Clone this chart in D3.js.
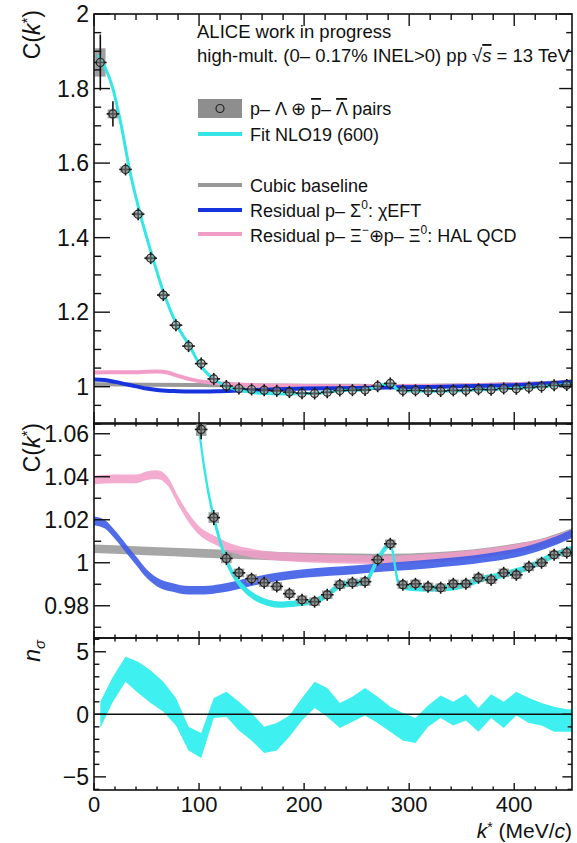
<!DOCTYPE html>
<html>
<head>
<meta charset="utf-8">
<script src="https://cdn.jsdelivr.net/npm/d3@7"></script>
<style>
  body { margin: 0; background: #fff; }
  svg { font-family: "Liberation Sans", Arial, Helvetica, sans-serif; }
</style>
</head>
<body>
<svg id="chart"></svg>
<script>
var width = 577;
var height = 843;

// measured correlation function, bin centres in MeV/c
var kStar = [6, 18, 30, 42, 54, 66, 78, 90, 102, 114, 126, 138, 150, 162, 174, 186, 198, 210, 222,
             234, 246, 258, 270, 282, 294, 306, 318, 330, 342, 354, 366, 378, 390, 402, 414, 426, 438, 450];
var cData = [1.870, 1.732, 1.583, 1.463, 1.345, 1.246, 1.165, 1.109, 1.062, 1.021, 1.002, 0.9953, 0.9926,
             0.9907, 0.9890, 0.9856, 0.9828, 0.9819, 0.9851, 0.9898, 0.9907, 0.9912, 1.0014, 1.0088, 0.9898,
             0.9902, 0.9888, 0.9884, 0.9902, 0.9902, 0.9930, 0.9921, 0.9953, 0.9944, 0.9981, 1.0000, 1.0037, 1.0047];
var statErr = [0.075, 0.034, 0.012, 0.008, 0.007, 0.006, 0.005, 0.005, 0.0045, 0.0035, 0.003, 0.0028, 0.0026,
               0.0025, 0.0024, 0.0023, 0.0022, 0.0022, 0.0021, 0.002, 0.002, 0.002, 0.002, 0.002, 0.002,
               0.002, 0.002, 0.002, 0.002, 0.002, 0.002, 0.002, 0.002, 0.002, 0.002, 0.002, 0.002, 0.002];
var sysErr = [0.038, 0.012, 0.008, 0.006, 0.005, 0.004, 0.0035, 0.003, 0.003, 0.0025, 0.0022, 0.002, 0.002,
              0.002, 0.002, 0.002, 0.002, 0.002, 0.002, 0.002, 0.002, 0.002, 0.002, 0.002, 0.002,
              0.002, 0.002, 0.002, 0.002, 0.002, 0.002, 0.002, 0.002, 0.002, 0.002, 0.002, 0.002, 0.002];

// Fit NLO19 (600)
var fitK = [4, 10, 18, 26, 34, 44, 56, 67, 79, 91, 101, 108, 114, 120, 126, 132, 140, 153, 165, 178, 191,
            200, 210, 222, 234, 246, 258, 270, 282, 290, 300, 320, 340, 354, 366, 390, 414, 438, 455];
var fitC = [1.89, 1.86, 1.80, 1.70, 1.58, 1.463, 1.345, 1.246, 1.165, 1.109, 1.058, 1.035, 1.021, 1.010,
            1.001, 0.995, 0.9895, 0.984, 0.9815, 0.9805, 0.981, 0.9815, 0.9822, 0.985, 0.9895, 0.9905,
            0.991, 1.0014, 1.0088, 0.9905, 0.9885, 0.988, 0.9885, 0.990, 0.992, 0.9945, 0.998, 1.0035, 1.0065];

// cubic baseline
var baseK = [0, 50, 100, 150, 200, 250, 280, 320, 360, 400, 430, 455];
var baseC = [1.0065, 1.0055, 1.0045, 1.0035, 1.0027, 1.0023, 1.0022, 1.0028, 1.0042, 1.0068, 1.0098, 1.0140];

// residual p-Sigma0 chiEFT
var sigmaK = [0, 10, 20, 30, 40, 50, 60, 75, 90, 105, 120, 150, 175, 200, 250, 280, 320, 374, 410, 430, 455];
var sigmaC = [1.0195, 1.018, 1.013, 1.007, 1.001, 0.995, 0.991, 0.9885, 0.9872, 0.9872, 0.988, 0.9912,
              0.9935, 0.995, 0.9968, 0.998, 0.9995, 1.0023, 1.0055, 1.0085, 1.0135];

// residual p-Xi HAL QCD
var xiK = [0, 20, 40, 50, 60, 70, 80, 90, 100, 115, 130, 150, 175, 200, 250, 280, 320, 360, 400, 430, 455];
var xiC = [1.0385, 1.039, 1.039, 1.0405, 1.041, 1.038, 1.029, 1.021, 1.015, 1.0105, 1.007, 1.0045, 1.003,
           1.0022, 1.0015, 1.0013, 1.0022, 1.0038, 1.0065, 1.0095, 1.0135];
var residualHalf = 0.002;

// n sigma deviation band
var nsK = kStar.concat([455]);
var nsHigh = [1.0, 3.0, 4.6, 4.2, 3.5, 2.6, 1.3, -1.0, -1.5, 1.3, 1.8, 1.0, 0.1, -1.0, -0.7, -0.1, 1.3, 2.6, 2.1,
              0.9, 1.4, 2.1, 1.4, 0.6, 0.1, -0.3, 0.7, 1.5, 1.0, 1.6, 0.5, 1.6, 1.0, 1.8, 1.3, 0.9, 0.6, 0.4, 0.4];
var nsLow = [-1.1, 1.0, 2.6, 1.7, 0.9, 0.2, -0.9, -2.9, -3.5, -0.3, -0.2, -1.3, -2.1, -3.1, -2.9, -1.8, -0.5, 0.5, -0.2,
             -1.1, -0.6, -0.1, -0.7, -1.4, -2.1, -2.3, -1.0, -0.3, -0.9, -0.5, -1.4, -0.3, -1.1, -0.1, -0.7, -0.9, -1.4, -1.4, -1.4];

// tick values
var xMajor = [0, 100, 200, 300, 400];
var topMajor = [1, 1.2, 1.4, 1.6, 1.8, 2];
var midMajor = [0.98, 1, 1.02, 1.04, 1.06];
var botMajor = [-5, 0, 5];

var cyan = '#35e6e6';
var blue = '#1633dd';
var pink = '#f29cc8';
var grey = '#999999';

var x0 = 94, x1 = 572;
var x = d3.scaleLinear().domain([0, 455]).range([x0, x1]);
var yTop = d3.scaleLinear().domain([0.9, 2]).range([424, 14]);
var yMid = d3.scaleLinear().domain([0.965, 1.065]).range([638, 423]);
var yBot = d3.scaleLinear().domain([-6.05, 6.1]).range([790, 638]);

var svg = d3.select('#chart').attr('width', width).attr('height', height);

var pts = kStar.map(function(k, i){
	return {k: k, c: cData[i], st: statErr[i], sy: sysErr[i]};
});

function fmt(d){
	var s = String(+d.toFixed(3));
	return s.replace('-', '\u2212');
}

function minors(domain, step){
	var out = [];
	var start = Math.ceil(domain[0] / step - 1e-9);
	for (var i = start; i * step <= domain[1] + 1e-9; i++) out.push(+(i * step).toFixed(4));
	return out;
}

function clip(id, y){
	svg.append('clipPath').attr('id', id)
		.append('rect')
		.attr('x', x0).attr('y', y.range()[1])
		.attr('width', x1 - x0).attr('height', y.range()[0] - y.range()[1]);
	return svg.append('g').attr('clip-path', 'url(#' + id + ')');
}

function frame(y, yMaj, yMinStep, yLen, xLen, labelsX){
	var g = svg.append('g');
	var top = y.range()[1], bot = y.range()[0];
	var ymin = minors(y.domain(), yMinStep);
	var xmin = minors(x.domain(), 20);
	// y ticks left and right
	ymin.forEach(function(v){
		var major = yMaj.some(function(m){ return Math.abs(m - v) < 1e-6; });
		var L = major ? yLen : yLen * 0.45;
		g.append('line').attr('x1', x0).attr('x2', x0 + L).attr('y1', y(v)).attr('y2', y(v));
		g.append('line').attr('x1', x1).attr('x2', x1 - L * 0.8).attr('y1', y(v)).attr('y2', y(v));
	});
	xmin.forEach(function(v){
		var major = v % 100 === 0;
		var L = major ? xLen : xLen * 0.5;
		g.append('line').attr('x1', x(v)).attr('x2', x(v)).attr('y1', bot).attr('y2', bot - L);
		g.append('line').attr('x1', x(v)).attr('x2', x(v)).attr('y1', top).attr('y2', top + L);
	});
	g.selectAll('line').attr('stroke', '#111').attr('stroke-width', 1.4);
	g.append('rect').attr('x', x0).attr('y', top).attr('width', x1 - x0).attr('height', bot - top)
		.attr('fill', 'none').attr('stroke', '#111').attr('stroke-width', 1.6);
	g.selectAll('text.yl').data(yMaj).enter().append('text')
		.attr('x', x0 - 5).attr('y', function(d){ return y(d); })
		.attr('dy', '0.36em').attr('text-anchor', 'end')
		.attr('font-size', 23).attr('fill', '#111')
		.text(fmt);
	if (labelsX) {
		g.selectAll('text.xl').data(xMajor).enter().append('text')
			.attr('x', function(d){ return x(d); }).attr('y', bot + 22)
			.attr('text-anchor', 'middle').attr('font-size', 22).attr('fill', '#111')
			.text(fmt);
	}
}

function band(y, ks, cs, half){
	return d3.area()
		.x(function(d, i){ return x(ks[i]); })
		.y0(function(d, i){ return y(cs[i] - half); })
		.y1(function(d, i){ return y(cs[i] + half); })
		.curve(d3.curveMonotoneX)(ks);
}

function line(y, ks, cs){
	return d3.line()
		.x(function(d, i){ return x(ks[i]); })
		.y(function(d, i){ return y(cs[i]); })
		.curve(d3.curveMonotoneX)(ks);
}

function drawData(g, y){
	g.selectAll('rect.sys').data(pts).enter().append('rect')
		.attr('x', function(d){ return x(d.k - 5); })
		.attr('width', x(10) - x(0))
		.attr('y', function(d){ return y(d.c + d.sy); })
		.attr('height', function(d){ return y(d.c - d.sy) - y(d.c + d.sy); })
		.attr('fill', '#8e8e8e').attr('opacity', 0.85);
}

function drawPoints(g, y){
	g.selectAll('line.ev').data(pts).enter().append('line')
		.attr('x1', function(d){ return x(d.k); }).attr('x2', function(d){ return x(d.k); })
		.attr('y1', function(d){ return Math.min(y(d.c) - 6, y(d.c + d.st)); })
		.attr('y2', function(d){ return Math.max(y(d.c) + 6, y(d.c - d.st)); })
		.attr('stroke', '#111').attr('stroke-width', 1.6);
	g.selectAll('line.eh').data(pts).enter().append('line')
		.attr('x1', function(d){ return x(d.k - 6); }).attr('x2', function(d){ return x(d.k + 6); })
		.attr('y1', function(d){ return y(d.c); }).attr('y2', function(d){ return y(d.c); })
		.attr('stroke', '#111').attr('stroke-width', 1.6);
	g.selectAll('circle').data(pts).enter().append('circle')
		.attr('cx', function(d){ return x(d.k); }).attr('cy', function(d){ return y(d.c); })
		.attr('r', 4)
		.attr('fill', 'rgba(150,150,150,0.5)').attr('stroke', '#222').attr('stroke-width', 1.2);
}

// ---- top panel
var gTop = clip('cTop', yTop);
drawData(gTop, yTop);
gTop.append('path').attr('d', line(yTop, baseK, baseC)).attr('fill', 'none').attr('stroke', grey).attr('stroke-width', 4);
gTop.append('path').attr('d', line(yTop, xiK, xiC)).attr('fill', 'none').attr('stroke', pink).attr('stroke-width', 4);
gTop.append('path').attr('d', line(yTop, sigmaK, sigmaC)).attr('fill', 'none').attr('stroke', blue).attr('stroke-width', 4);
gTop.append('path').attr('d', line(yTop, fitK, fitC)).attr('fill', 'none').attr('stroke', cyan).attr('stroke-width', 3);
drawPoints(gTop, yTop);
frame(yTop, topMajor, 0.05, 16, 12, false);

// ---- middle panel
var gMid = clip('cMid', yMid);
gMid.append('path').attr('d', band(yMid, baseK, baseC, residualHalf)).attr('fill', '#a6a6a6');
gMid.append('path').attr('d', band(yMid, xiK, xiC, residualHalf)).attr('fill', pink).attr('opacity', 0.85);
gMid.append('path').attr('d', band(yMid, sigmaK, sigmaC, residualHalf)).attr('fill', '#3e5ce6').attr('opacity', 0.9);
gMid.append('path').attr('d', band(yMid, fitK, fitC, 0.0011)).attr('fill', cyan)
	.attr('stroke', cyan).attr('stroke-width', 1.6);
drawData(gMid, yMid);
drawPoints(gMid, yMid);
frame(yMid, midMajor, 0.01, 16, 7, false);

// ---- bottom panel
var gBot = clip('cBot', yBot);
gBot.append('path')
	.attr('d', d3.area()
		.x(function(d, i){ return x(nsK[i]); })
		.y0(function(d, i){ return yBot(nsLow[i]); })
		.y1(function(d, i){ return yBot(nsHigh[i]); })(nsK))
	.attr('fill', '#3ff0f0');
gBot.append('line').attr('x1', x0).attr('x2', x1).attr('y1', yBot(0)).attr('y2', yBot(0))
	.attr('stroke', '#111').attr('stroke-width', 1.5);
frame(yBot, botMajor, 1, 12, 7, true);

// ---- axis titles
function yTitle(xp, yp){
	return svg.append('text').attr('transform', 'translate(' + xp + ',' + yp + ') rotate(-90)')
		.attr('text-anchor', 'end').attr('font-size', 23).attr('fill', '#111');
}
[[40, 10], [40, 423]].forEach(function(p){
	var t = yTitle(p[0], p[1]);
	t.append('tspan').text('C(');
	t.append('tspan').attr('font-style', 'italic').text('k');
	t.append('tspan').attr('font-size', 15).attr('dy', -8).text('*');
	t.append('tspan').attr('dy', 8).text(')');
});
var tn = yTitle(40, 640);
tn.append('tspan').attr('font-style', 'italic').text('n');
tn.append('tspan').attr('font-style', 'italic').attr('font-size', 15).attr('dy', 5).text('\u03c3');

var tx = svg.append('text').attr('x', x1).attr('y', 838).attr('text-anchor', 'end')
	.attr('font-size', 21).attr('fill', '#111');
tx.append('tspan').attr('font-style', 'italic').text('k');
tx.append('tspan').attr('font-size', 14).attr('dy', -6).text('*');
tx.append('tspan').attr('dy', 6).text(' (MeV/');
tx.append('tspan').attr('font-style', 'italic').text('c');
tx.append('tspan').text(')');

// ---- header
svg.append('text').attr('x', 197).attr('y', 38).attr('font-size', 18.5).attr('fill', '#111')
	.text('ALICE work in progress');
var h2 = svg.append('text').attr('x', 197).attr('y', 62).attr('font-size', 18.5).attr('fill', '#111');
h2.append('tspan').text('high-mult. (0\u2013 0.17% INEL>0) pp \u221a');
h2.append('tspan').attr('font-style', 'italic').style('text-decoration', 'overline').text('s');
h2.append('tspan').text(' = 13 TeV');

// ---- legend
var lx = 198, lw = 44, tx0 = 250;
svg.append('rect').attr('x', lx).attr('y', 99).attr('width', lw).attr('height', 19).attr('fill', '#8e8e8e');
svg.append('circle').attr('cx', lx + lw / 2).attr('cy', 108.5).attr('r', 4)
	.attr('fill', 'none').attr('stroke', '#222').attr('stroke-width', 1.2);
var l1 = svg.append('text').attr('x', tx0).attr('y', 115).attr('font-size', 18).attr('fill', '#111');
l1.append('tspan').text('p\u2013 \u039b \u2295 ');
l1.append('tspan').style('text-decoration', 'overline').text('p');
l1.append('tspan').text('\u2013 ');
l1.append('tspan').style('text-decoration', 'overline').text('\u039b');
l1.append('tspan').text(' pairs');

var legLines = [
	{y: 134, color: cyan, label: 'Fit NLO19 (600)'},
	{y: 185, color: grey, label: 'Cubic baseline'},
	{y: 210, color: blue, label: null},
	{y: 234, color: pink, label: null}
];
legLines.forEach(function(d){
	svg.append('line').attr('x1', lx).attr('x2', lx + lw).attr('y1', d.y).attr('y2', d.y)
		.attr('stroke', d.color).attr('stroke-width', 4);
	if (d.label) svg.append('text').attr('x', tx0).attr('y', d.y + 7).attr('font-size', 18).attr('fill', '#111').text(d.label);
});
var l4 = svg.append('text').attr('x', tx0).attr('y', 217).attr('font-size', 18).attr('fill', '#111');
l4.append('tspan').text('Residual p\u2013 \u03a3');
l4.append('tspan').attr('font-size', 12).attr('dy', -8).text('0');
l4.append('tspan').attr('dy', 8).text(': \u03c7EFT');
var l5 = svg.append('text').attr('x', tx0).attr('y', 242).attr('font-size', 18).attr('fill', '#111');
l5.append('tspan').text('Residual p\u2013 \u039e');
l5.append('tspan').attr('font-size', 12).attr('dy', -8).text('\u2212');
l5.append('tspan').attr('dy', 8).text('\u2295p\u2013 \u039e');
l5.append('tspan').attr('font-size', 12).attr('dy', -8).text('0');
l5.append('tspan').attr('dy', 8).text(': HAL QCD');
</script>
</body>
</html>
